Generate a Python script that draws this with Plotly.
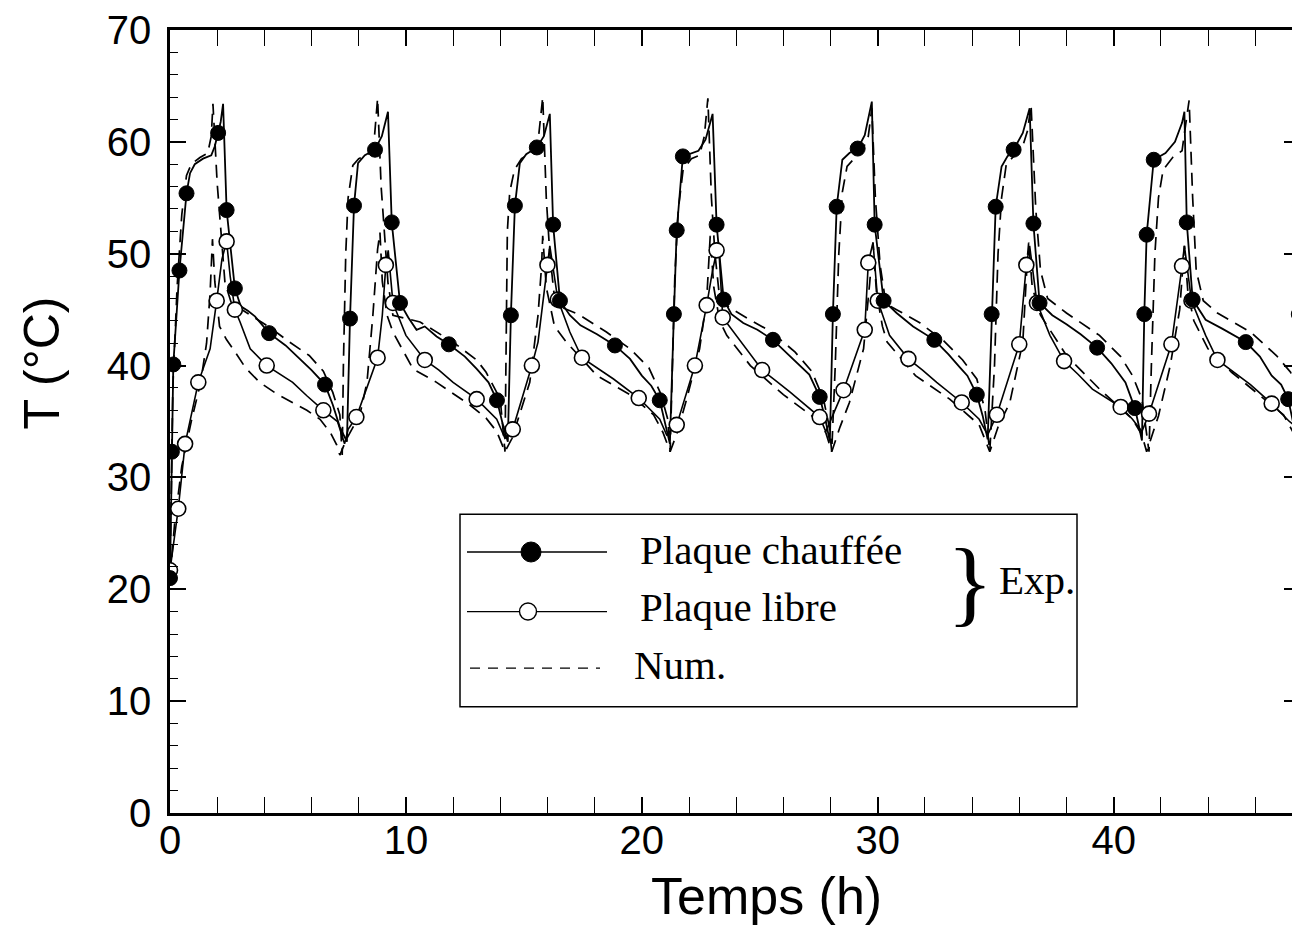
import plotly.graph_objects as go

# ---------------- data ----------------
# Experimental, heated plate (solid line)
heated_line_t = [0.0, 0.08, 0.14, 0.40, 0.70, 0.85, 1.05, 1.4, 1.75, 1.9, 2.04, 2.15, 2.25, 2.40, 2.75, 3.0, 3.3, 3.6, 4.2, 4.9, 5.5, 6.0, 6.57, 6.9, 7.2, 7.5,
                 7.63, 7.80, 7.97, 8.26, 8.69, 8.98, 9.24, 9.40, 9.75, 10.1, 10.45, 10.8, 11.3, 11.82, 12.5, 13.0, 13.5, 13.86, 14.1, 14.32,
                 14.45, 14.62, 14.83, 15.1, 15.55, 15.85, 16.1, 16.24, 16.53, 16.95, 17.4, 18.1, 18.86, 19.5, 20.0, 20.4, 20.76, 21.0, 21.19,
                 21.36, 21.48, 21.74, 22.0, 22.4, 22.7, 23.0, 23.17, 23.47, 23.8, 24.3, 24.9, 25.56, 26.2, 26.8, 27.1, 27.54, 27.8, 27.97,
                 28.1, 28.26, 28.5, 28.8, 29.15, 29.45, 29.75, 29.87, 30.25, 30.8, 31.5, 32.4, 33.0, 33.5, 33.8, 34.2, 34.45, 34.66,
                 34.83, 35.0, 35.25, 35.5, 35.76, 36.15, 36.44, 36.6, 36.86, 37.4, 38.0, 38.6, 39.3, 39.9, 40.5, 40.9, 41.05, 41.2,
                 41.3, 41.4, 41.7, 42.2, 42.6, 42.9, 43.0, 43.1, 43.35, 43.9, 44.6, 45.6, 46.2, 46.7, 47.1, 47.4, 47.6, 47.75, 47.85, 47.9]
heated_line_T = [21.0, 32.3, 40.1, 48.5, 55.4, 57.2, 58.0, 58.5, 58.8, 59.6, 60.8, 61.8, 63.4, 53.9, 46.9, 45.3, 44.9, 44.4, 42.9, 41.8, 40.6, 39.6, 38.3, 36.5, 34.5, 33.2,
                 44.2, 54.3, 58.1, 58.8, 59.3, 60.5, 62.7, 52.8, 45.6, 44.3, 43.2, 43.5, 42.6, 41.9, 40.8, 39.7, 38.5, 36.9, 34.8, 33.2,
                 44.5, 54.3, 58.1, 58.9, 59.5, 60.5, 62.5, 52.6, 45.8, 44.5, 43.6, 42.8, 41.8, 40.6, 39.1, 38.2, 36.9, 34.8, 33.0,
                 44.6, 52.1, 58.7, 58.9, 59.2, 60.2, 62.5, 52.6, 45.9, 44.6, 43.8, 43.2, 42.3, 41.0, 39.8, 39.2, 37.2, 35.0, 33.2,
                 44.6, 54.2, 58.4, 59.0, 59.4, 60.6, 63.6, 52.6, 45.8, 44.7, 43.5, 42.3, 41.0, 39.8, 39.1, 37.4, 35.5, 33.4,
                 44.6, 54.2, 57.8, 58.7, 59.3, 60.8, 63.0, 52.7, 45.6, 44.5, 43.7, 42.8, 41.6, 40.2, 38.5, 36.2, 34.8, 33.3,
                 44.6, 51.7, 58.4, 59.0, 60.0, 61.7, 62.7, 52.8, 45.9, 44.1, 43.3, 42.1, 40.8, 39.1, 38.3, 37.0, 35.0, 33.5, 44.6, 54.3]

# Experimental, heated plate (filled markers)
heated_mark_t = [0.0, 0.08, 0.14, 0.40, 0.70, 2.04, 2.40, 2.75, 4.2, 6.57,
                 7.63, 7.80, 8.69, 9.40, 9.75, 11.82, 13.86,
                 14.45, 14.62, 15.55, 16.24, 16.53, 18.86, 20.76,
                 21.36, 21.48, 21.74, 23.17, 23.47, 25.56, 27.54,
                 28.1, 28.26, 29.15, 29.87, 30.25, 32.4, 34.2,
                 34.83, 35.0, 35.76, 36.6, 36.86, 39.3, 40.9,
                 41.3, 41.4, 41.7, 43.1, 43.35, 45.6, 47.4, 47.85, 47.9]
heated_mark_T = [21.0, 32.3, 40.1, 48.5, 55.4, 60.8, 53.9, 46.9, 42.9, 38.3,
                 44.2, 54.3, 59.3, 52.8, 45.6, 41.9, 36.9,
                 44.5, 54.3, 59.5, 52.6, 45.8, 41.8, 36.9,
                 44.6, 52.1, 58.7, 52.6, 45.9, 42.3, 37.2,
                 44.6, 54.2, 59.4, 52.6, 45.8, 42.3, 37.4,
                 44.6, 54.2, 59.3, 52.7, 45.6, 41.6, 36.2,
                 44.6, 51.7, 58.4, 52.8, 45.9, 42.1, 37.0, 44.6, 54.3]

# Experimental, free plate (solid line)
free_line_t = [0.0, 0.35, 0.64, 1.2, 1.7, 1.9, 1.98, 2.2, 2.4, 2.55, 2.75, 2.97, 3.4, 4.1, 4.6, 5.2, 5.8, 6.5, 7.1, 7.4,
               7.55, 7.9, 8.8, 9.0, 9.15, 9.25, 9.45, 10.0, 10.8, 11.4, 12.0, 13.0, 13.85, 14.2, 14.53,
               15.34, 15.6, 16.0, 16.1, 16.44, 16.95, 17.46, 18.1, 18.8, 19.87, 20.76, 21.05, 21.48,
               22.25, 22.75, 23.0, 23.17, 23.25, 23.43, 24.0, 25.1, 25.7, 26.3, 27.54, 27.8, 28.55,
               29.45, 29.6, 29.8, 30.0, 30.5, 31.3, 31.9, 32.5, 33.56, 34.3, 34.66, 35.05,
               36.0, 36.3, 36.44, 36.75, 37.3, 37.9, 38.5, 39.1, 40.3, 40.8, 41.2, 41.5,
               42.45, 42.9, 43.0, 43.3, 43.9, 44.4, 45.1, 45.8, 46.7, 47.45, 47.9]
free_line_T = [21.7, 27.2, 33.0, 38.5, 41.5, 44.5, 45.8, 49.5, 51.1, 48.0, 45.0, 43.9, 41.5, 40.0, 39.3, 38.5, 37.3, 36.0, 35.0, 33.0,
               34.3, 35.4, 40.7, 44.5, 49.0, 50.3, 45.6, 42.7, 40.5, 39.6, 38.5, 37.0, 35.2, 33.5, 34.3,
               40.0, 42.1, 49.0, 50.7, 45.9, 43.0, 40.7, 39.8, 38.8, 37.1, 35.2, 33.8, 34.7,
               40.0, 45.4, 48.5, 50.3, 51.0, 44.3, 42.7, 39.6, 38.6, 37.6, 35.4, 34.1, 37.8,
               43.2, 49.2, 51.0, 45.8, 42.7, 40.6, 39.6, 38.5, 36.7, 35.2, 33.8, 35.6,
               41.9, 49.0, 50.7, 45.6, 42.7, 40.4, 39.2, 37.9, 36.3, 35.2, 34.1, 35.7,
               41.9, 48.9, 50.7, 45.8, 42.7, 40.5, 39.4, 38.3, 36.6, 35.0, 34.3]

# Experimental, free plate (open markers)
free_mark_t = [0.0, 0.35, 0.64, 1.2, 1.98, 2.4, 2.75, 4.1, 6.5,
               7.9, 8.8, 9.15, 9.45, 10.8, 13.0,
               14.53, 15.34, 16.0, 16.44, 17.46, 19.87,
               21.48, 22.25, 22.75, 23.17, 23.43, 25.1, 27.54,
               28.55, 29.45, 29.6, 30.0, 31.3, 33.56,
               35.05, 36.0, 36.3, 36.75, 37.9, 40.3,
               41.5, 42.45, 42.9, 43.3, 44.4, 46.7]
free_mark_T = [21.7, 27.2, 33.0, 38.5, 45.8, 51.1, 45.0, 40.0, 36.0,
               35.4, 40.7, 49.0, 45.6, 40.5, 37.0,
               34.3, 40.0, 49.0, 45.9, 40.7, 37.1,
               34.7, 40.0, 45.4, 50.3, 44.3, 39.6, 35.4,
               37.8, 43.2, 49.2, 45.8, 40.6, 36.7,
               35.6, 41.9, 49.0, 45.6, 40.4, 36.3,
               35.7, 41.9, 48.9, 45.8, 40.5, 36.6]

# Numerical, heated plate (dashed)
num_heated_t = [0.0, 0.05, 0.12, 0.3, 0.5, 0.7, 0.9, 1.27, 1.6, 1.75, 1.82, 2.0, 2.2, 2.33, 2.6, 3.4, 4.24, 5.0, 5.9, 6.5, 6.9, 7.2, 7.3,
                7.35, 7.45, 7.55, 7.75, 8.0, 8.4, 8.65, 8.8, 8.95, 9.1, 9.24, 9.45, 10.0, 10.6, 12.0, 13.0, 13.4, 14.0, 14.2,
                14.25, 14.3, 14.4, 14.6, 14.9, 15.3, 15.6, 15.8, 15.95, 16.1, 16.3, 16.6, 17.3, 18.5, 19.5, 20.3, 20.8, 21.1, 21.2,
                21.3, 21.4, 21.55, 21.75, 22.1, 22.45, 22.65, 22.8, 22.95, 23.1, 23.3, 23.7, 24.5, 25.5, 26.5, 27.2, 27.7, 27.95, 28.05,
                28.2, 28.35, 28.5, 28.7, 29.0, 29.3, 29.6, 29.75, 29.9, 30.1, 30.35, 30.8, 31.8, 32.8, 33.6, 34.2, 34.55, 34.75,
                34.95, 35.1, 35.25, 35.45, 35.8, 36.1, 36.35, 36.5, 36.7, 36.9, 37.2, 38.0, 39.4, 40.3, 40.8, 41.2, 41.5,
                41.6, 41.75, 41.9, 42.1, 42.5, 42.9, 43.05, 43.2, 43.35, 43.5, 43.8, 44.4, 45.8, 46.9, 47.5, 47.9]
num_heated_T = [21.0, 30.0, 38.0, 47.0, 53.5, 57.0, 58.0, 58.6, 59.0, 60.5, 63.4, 56.3, 50.5, 47.4, 45.6, 44.5, 43.4, 42.2, 40.9, 39.5, 37.6, 35.6, 32.0,
                40.0, 50.0, 55.0, 57.9, 58.5, 58.9, 60.0, 63.9, 56.0, 51.9, 47.4, 44.5, 44.2, 43.9, 42.1, 40.5, 39.4, 37.0, 32.3,
                42.0, 52.0, 55.5, 57.5, 58.5, 59.0, 60.0, 64.0, 55.0, 50.0, 46.0, 45.2, 44.6, 43.0, 41.5, 39.8, 37.5, 35.2, 32.3,
                40.0, 48.0, 54.0, 57.5, 58.5, 58.8, 60.5, 63.9, 55.0, 50.0, 46.0, 45.2, 44.2, 43.0, 41.2, 39.5, 37.0, 34.5, 32.3,
                40.0, 50.0, 55.5, 57.8, 58.5, 59.0, 60.5, 63.0, 55.0, 49.0, 45.5, 45.0, 43.8, 42.2, 40.5, 38.8, 36.0, 32.3,
                40.0, 50.0, 55.0, 58.0, 58.8, 59.3, 61.0, 63.3, 54.0, 48.5, 46.0, 44.7, 42.7, 40.8, 39.1, 37.0, 32.3,
                40.0, 50.0, 55.0, 57.5, 58.6, 59.2, 61.5, 63.7, 55.0, 48.5, 45.8, 44.7, 43.0, 40.9, 39.4, 37.0]

# Numerical, free plate (dashed)
num_free_t = [0.0, 0.2, 0.5, 0.9, 1.3, 1.55, 1.7, 1.8, 1.9, 2.1, 2.4, 2.67, 3.2, 3.8, 4.5, 5.2, 5.8, 6.36, 6.8, 7.07, 7.2,
              7.5, 8.05, 8.35, 8.6, 8.8, 8.9, 9.0, 9.2, 9.45, 10.3, 11.3, 12.0, 12.7, 13.4, 13.85, 14.2,
              14.5, 14.8, 15.25, 15.6, 15.75, 15.8, 15.95, 16.3, 16.8, 17.5, 18.1, 19.5, 20.5, 20.9, 21.2,
              21.5, 21.9, 22.45, 22.75, 22.9, 23.05, 23.3, 23.6, 24.6, 26.0, 27.4, 27.8, 28.05,
              28.4, 28.8, 29.4, 29.66, 29.8, 29.95, 30.2, 30.4, 31.6, 33.05, 34.3, 34.75,
              35.1, 35.6, 36.15, 36.35, 36.4, 36.55, 36.9, 38.0, 39.4, 40.8, 41.2, 41.4,
              41.9, 42.4, 42.8, 43.0, 43.15, 43.4, 44.0, 45.0, 46.2, 47.2, 47.75, 47.9]
num_free_T = [21.0, 26.0, 31.0, 35.0, 38.5, 42.0, 46.5, 51.3, 47.5, 43.5, 42.3, 41.5, 39.8, 38.5, 37.5, 36.7, 36.0, 35.2, 34.0, 32.9, 32.0,
              33.5, 35.6, 38.5, 44.5, 50.4, 51.9, 47.5, 44.5, 43.0, 39.7, 38.5, 37.5, 36.5, 35.3, 34.1, 32.3,
              33.5, 35.5, 38.5, 44.5, 48.9, 51.6, 47.0, 43.5, 42.1, 40.5, 39.1, 37.4, 35.6, 34.0, 32.3,
              34.0, 37.0, 41.5, 45.9, 51.6, 47.0, 44.0, 42.7, 40.0, 37.4, 35.2, 34.0, 32.3,
              34.5, 36.7, 41.5, 47.4, 51.0, 46.5, 43.5, 42.1, 39.1, 37.0, 34.7, 32.3,
              34.5, 36.7, 42.1, 49.8, 51.0, 47.0, 44.5, 40.9, 37.9, 35.2, 33.8, 32.3,
              35.5, 40.0, 45.0, 50.7, 46.5, 44.0, 41.5, 39.4, 37.3, 35.6, 33.5, 32.5]

x_tick_vals = [0, 10, 20, 30, 40]
y_tick_vals = [0, 10, 20, 30, 40, 50, 60, 70]

# ---------------- figure ----------------
fig = go.Figure()
dash_style = "13px,8px"
fig.add_trace(go.Scatter(x=num_heated_t, y=num_heated_T, mode="lines",
                         line=dict(color="black", width=1.7, dash=dash_style)))
fig.add_trace(go.Scatter(x=num_free_t, y=num_free_T, mode="lines",
                         line=dict(color="black", width=1.7, dash=dash_style)))
fig.add_trace(go.Scatter(x=free_line_t, y=free_line_T, mode="lines",
                         line=dict(color="black", width=1.6)))
fig.add_trace(go.Scatter(x=heated_line_t, y=heated_line_T, mode="lines",
                         line=dict(color="black", width=1.8)))
fig.add_trace(go.Scatter(x=free_mark_t, y=free_mark_T, mode="markers",
                         marker=dict(symbol="circle", size=15, color="white",
                                     line=dict(color="black", width=1.6))))
fig.add_trace(go.Scatter(x=heated_mark_t, y=heated_mark_T, mode="markers",
                         marker=dict(symbol="circle", size=15, color="black",
                                     line=dict(color="black", width=1))))
# invisible trace to carry the right-hand tick axis
fig.add_trace(go.Scatter(x=[], y=[], yaxis="y2", mode="lines", showlegend=False))

sans = "Liberation Sans, Arial, sans-serif"
tickfont = dict(family=sans, size=40, color="black")
minor_ticks = dict(tickmode="linear", tick0=0, dtick=2, ticks="inside", ticklen=8,
                   tickwidth=1.2, tickcolor="black", showgrid=False)
fig.update_layout(
    width=1292, height=922,
    margin=dict(l=162, r=0, t=16, b=117),
    plot_bgcolor="white", paper_bgcolor="white",
    showlegend=False,
    xaxis=dict(range=[0, 47.9], tickmode="array", tickvals=x_tick_vals,
               ticktext=[str(v) for v in x_tick_vals],
               ticks="inside", ticklen=16, tickwidth=1.5, tickcolor="black",
               minor=minor_ticks,
               showline=True, linewidth=2.5, linecolor="black", mirror="allticks",
               showgrid=False, zeroline=False, tickfont=tickfont, ticklabelstandoff=-10,
               ticklabeloverflow="allow"),
    yaxis=dict(range=[0, 70], tickmode="array", tickvals=y_tick_vals,
               ticktext=[str(v) for v in y_tick_vals],
               ticks="inside", ticklen=16, tickwidth=1.5, tickcolor="black",
               minor=minor_ticks,
               showline=True, linewidth=2.5, linecolor="black",
               showgrid=False, zeroline=False, tickfont=tickfont, ticklabelstandoff=8,
               ticklabeloverflow="allow"),
    yaxis2=dict(range=[0, 70], overlaying="y", side="right", showline=False,
                tickmode="array", tickvals=y_tick_vals, showticklabels=False,
                ticks="inside", ticklen=16, tickwidth=1.5, tickcolor="black",
                minor=minor_ticks, showgrid=False, zeroline=False),
)

# ---------------- helpers: pixel (reference) -> paper coords ----------------
def px_x(p):
    return (p - 170) / 1130.0

def px_y(p):
    return (813 - p) / 789.0

# axis titles
fig.add_annotation(text="Temps (h)", xref="paper", yref="paper", x=px_x(766), y=px_y(897),
                   xanchor="center", yanchor="middle", showarrow=False,
                   font=dict(family=sans, size=52, color="black"))
fig.add_annotation(text="T (°C)", xref="paper", yref="paper", x=px_x(42), y=px_y(360), textangle=-90,
                   xanchor="center", yanchor="middle", showarrow=False,
                   font=dict(family=sans, size=50, color="black"))

# ---------------- legend box ----------------
fig.add_shape(type="rect", xref="paper", yref="paper", x0=px_x(460), x1=px_x(1077),
              y0=px_y(706), y1=px_y(512), line=dict(color="black", width=1.5), fillcolor="white", layer="above")
# row 1
fig.add_shape(type="line", xref="paper", yref="paper", x0=px_x(467), x1=px_x(607), y0=px_y(550), y1=px_y(550),
              line=dict(color="black", width=1.3), layer="above")
fig.add_shape(type="circle", xref="paper", yref="paper", xsizemode="pixel", ysizemode="pixel",
              xanchor=px_x(531), yanchor=px_y(550), x0=-10, x1=10, y0=-10, y1=10,
              line=dict(color="black", width=1), fillcolor="black", layer="above")
# row 2
fig.add_shape(type="line", xref="paper", yref="paper", x0=px_x(467), x1=px_x(607), y0=px_y(610), y1=px_y(610),
              line=dict(color="black", width=1.3), layer="above")
fig.add_shape(type="circle", xref="paper", yref="paper", xsizemode="pixel", ysizemode="pixel",
              xanchor=px_x(528), yanchor=px_y(610), x0=-8.5, x1=8.5, y0=-8.5, y1=8.5,
              line=dict(color="black", width=1.4), fillcolor="white", layer="above")
# row 3
fig.add_shape(type="line", xref="paper", yref="paper", x0=px_x(470), x1=px_x(600), y0=px_y(667), y1=px_y(667),
              line=dict(color="black", width=1.3, dash="10px,8px"), layer="above")

serif = "Liberation Serif, Times New Roman, serif"
legend_font = dict(family=serif, size=41, color="black")
fig.add_annotation(text="Plaque chauffée", xref="paper", yref="paper", x=px_x(638), y=px_y(548),
                   xanchor="left", yanchor="middle", showarrow=False, font=legend_font)
fig.add_annotation(text="Plaque libre", xref="paper", yref="paper", x=px_x(638), y=px_y(605),
                   xanchor="left", yanchor="middle", showarrow=False, font=legend_font)
fig.add_annotation(text="Num.", xref="paper", yref="paper", x=px_x(632), y=px_y(664),
                   xanchor="left", yanchor="middle", showarrow=False, font=legend_font)
fig.add_annotation(text="}", xref="paper", yref="paper", x=px_x(970), y=px_y(580),
                   xanchor="center", yanchor="middle", showarrow=False,
                   font=dict(family=serif, size=96, color="black"))
fig.add_annotation(text="Exp.", xref="paper", yref="paper", x=px_x(997), y=px_y(578),
                   xanchor="left", yanchor="middle", showarrow=False, font=legend_font)

fig.write_html("out.html")
